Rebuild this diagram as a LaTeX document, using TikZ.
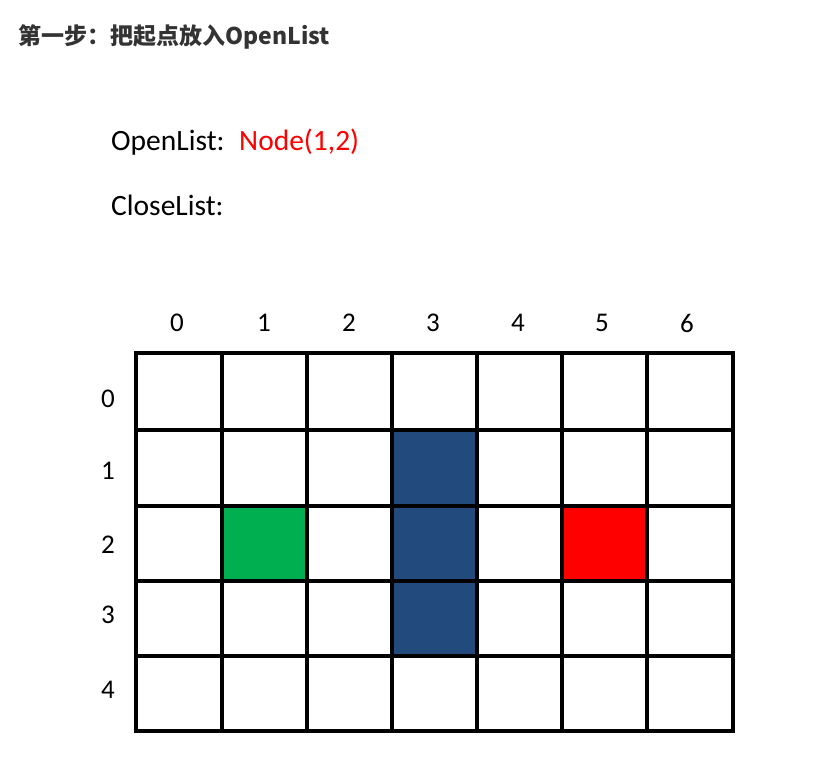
\documentclass[tikz,border=0pt]{standalone}
\usepackage{fontspec}
\setmainfont{Carlito}
\newfontfamily\cjk{Noto Sans CJK SC}
\definecolor{titlegray}{HTML}{333333}
\definecolor{cellgreen}{HTML}{00B050}
\definecolor{cellblue}{HTML}{234A7C}
\definecolor{cellred}{HTML}{FF0000}
\begin{document}
\begin{tikzpicture}[x=1pt,y=-1pt,
  lbl/.style={inner sep=0pt,font=\fontsize{27}{30}\selectfont},
  listtxt/.style={anchor=base west,inner sep=0pt,font=\fontsize{29.5}{33}\selectfont},
  gridline/.style={line width=3.5pt,black}]
\useasboundingbox (0,0) rectangle (820,763);
\fill[white] (0,0) rectangle (820,763);
\node[anchor=base west,inner sep=0pt,text=titlegray,font=\cjk\bfseries\fontsize{23}{27}\selectfont] (title) at (18,44) {第一步：把起点放入OpenList};
\node[listtxt] (open) at (111,150) {OpenList:};
\node[listtxt,text=cellred] (opennode) at (239,150) {Node(1,2)};
\node[listtxt] (close) at (111,215) {CloseList:};
% cells
\fill[cellgreen] (222,506) rectangle (307,581);
\fill[cellblue] (392,430) rectangle (477,656);
\fill[cellred] (562,506) rectangle (647,581);
% grid
\foreach \x in {136,222,307,392,477,562,647,733}
  \draw[gridline] (\x,353) -- (\x,731);
\foreach \y in {353,430,506,581,656,731}
  \draw[gridline] (136,\y) -- (733,\y);
\draw[gridline,line join=miter] (136,353) rectangle (733,731);
% column labels
\foreach \x/\t in {177/0,264/1,349/2,433/3,518/4,602/5,687/6}
  \node[lbl] (c\t) at (\x,323) {\t};
% row labels
\foreach \y/\t in {399/0,471/1,545/2,615/3,690/4}
  \node[lbl] (r\t) at (108,\y) {\t};
\end{tikzpicture}
\end{document}
